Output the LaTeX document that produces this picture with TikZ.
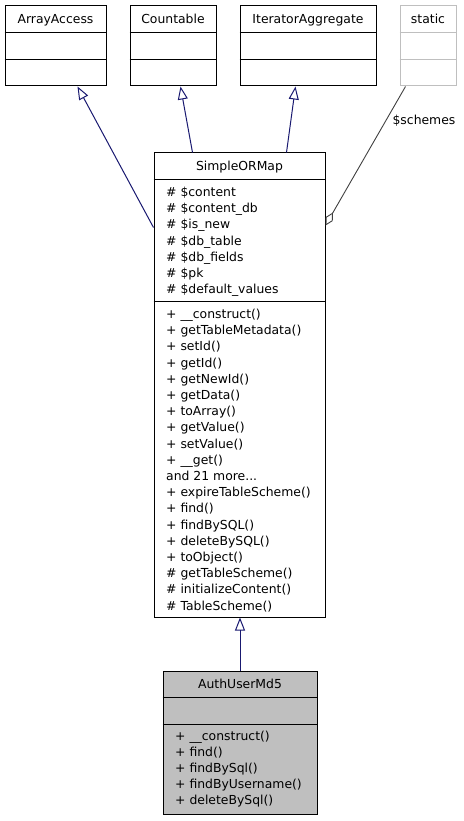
\documentclass[tikz,border=0pt]{standalone}
\usepackage{fontspec}
\setmainfont{DejaVu Sans}
\usetikzlibrary{arrows.meta,calc}
\definecolor{edgeblue}{HTML}{191970}
\definecolor{edgegray}{HTML}{404040}
\definecolor{boxgray}{HTML}{BFBFBF}
\newcommand{\mydots}{...}
\begin{document}
\begin{tikzpicture}[x=1pt,y=-1pt,
  font=\fontsize{12.4}{16.2}\selectfont,
  umlbox/.style={draw=black, line width=1pt, rectangle, inner sep=0pt, fill=white},
  greybox/.style={draw=boxgray, line width=1pt, rectangle, inner sep=0pt, fill=white},
  txt/.style={anchor=base west, inner sep=0pt},
  ttl/.style={anchor=base, inner sep=0pt},
  inh/.style={draw=edgeblue, line width=1pt, -{Triangle[open,length=13pt,width=10pt]}},
  agg/.style={draw=edgegray, line width=0.9pt, -{Diamond[open,length=15pt,width=8pt]}}
]
\useasboundingbox (0,0) rectangle (463,821);

% ArrayAccess
\node[umlbox, minimum width=101pt, minimum height=80pt] (aa) at (55.5,46) {};
\draw[line width=1pt] (aa.west |- 0,33) -- (aa.east |- 0,33);
\draw[line width=1pt] (aa.west |- 0,60) -- (aa.east |- 0,60);
\node[ttl] (aat) at (55.5,24) {ArrayAccess};

% Countable
\node[umlbox, minimum width=86pt, minimum height=80pt] (cnt) at (173,46) {};
\draw[line width=1pt] (cnt.west |- 0,33) -- (cnt.east |- 0,33);
\draw[line width=1pt] (cnt.west |- 0,60) -- (cnt.east |- 0,60);
\node[ttl] (cntt) at (173,24) {Countable};

% IteratorAggregate
\node[umlbox, minimum width=136pt, minimum height=80pt] (ia) at (308,46) {};
\draw[line width=1pt] (ia.west |- 0,33) -- (ia.east |- 0,33);
\draw[line width=1pt] (ia.west |- 0,60) -- (ia.east |- 0,60);
\node[ttl] (iat) at (308,24) {IteratorAggregate};

% static
\node[greybox, minimum width=56pt, minimum height=80pt] (st) at (428,46) {};
\draw[boxgray, line width=1pt] (st.west |- 0,33) -- (st.east |- 0,33);
\draw[boxgray, line width=1pt] (st.west |- 0,60) -- (st.east |- 0,60);
\node[ttl] (stt) at (428,24) {static};

% SimpleORMap
\node[umlbox, minimum width=171pt, minimum height=464pt] (som) at (239.5,385) {};
\draw[line width=1pt] (som.west |- 0,180) -- (som.east |- 0,180);
\draw[line width=1pt] (som.west |- 0,301) -- (som.east |- 0,301);
\node[ttl] (somt) at (239.5,171) {SimpleORMap};
\foreach \t [count=\i from 0] in {{\# \$content},{\# \$content\_db},{\# \$is\_new},{\# \$db\_table},{\# \$db\_fields},{\# \$pk},{\# \$default\_values}}
  \node[txt] (soma\i) at (166,196.5+\i*16.2) {\t};
\foreach \t [count=\i from 0] in {{+ \_\_construct()},{+ getTableMetadata()},{+ setId()},{+ getId()},{+ getNewId()},{+ getData()},{+ toArray()},{+ getValue()},{+ setValue()},{+ \_\_get()},{and 21 more\mydots},{+ expireTableScheme()},{+ find()},{+ findBySQL()},{+ deleteBySQL()},{+ toObject()},{\# getTableScheme()},{\# initializeContent()},{\# TableScheme()}}
  \node[txt] (somm\i) at (166,318.5+\i*16.2) {\t};

% AuthUserMd5
\node[umlbox, fill=boxgray, minimum width=154pt, minimum height=143pt] (aum) at (240,742.5) {};
\draw[line width=1pt] (aum.west |- 0,697) -- (aum.east |- 0,697);
\draw[line width=1pt] (aum.west |- 0,724) -- (aum.east |- 0,724);
\node[ttl] (aumt) at (240,688) {AuthUserMd5};
\foreach \t [count=\i from 0] in {{+ \_\_construct()},{+ find()},{+ findBySql()},{+ findByUsername()},{+ deleteBySql()}}
  \node[txt] (aumm\i) at (175,740+\i*16.2) {\t};

% connectors
\coordinate (aaT) at ($(aa.south west)+(73,0)$);
\coordinate (somA) at ($(som.north west)+(0,75)$);
\coordinate (cntT) at ($(cnt.south west)+(51,0)$);
\coordinate (somC) at ($(som.north west)+(39,0)$);
\coordinate (iaT) at ($(ia.south west)+(56,0)$);
\coordinate (somI) at ($(som.north west)+(133,0)$);
\coordinate (stB) at ($(st.south west)+(6,0)$);
\coordinate (somS) at ($(som.north east)+(0,73)$);

\draw[inh] (somA) -- (aaT);
\draw[inh] (somC) -- (cntT);
\draw[inh] (somI) -- (iaT);
\draw[inh] (aum.north) -- (aum.north |- som.south);
\draw[agg] (stB) -- (somS);
\node[ttl] (lbl) at (424,124.5) {\$schemes};
\end{tikzpicture}
\end{document}
